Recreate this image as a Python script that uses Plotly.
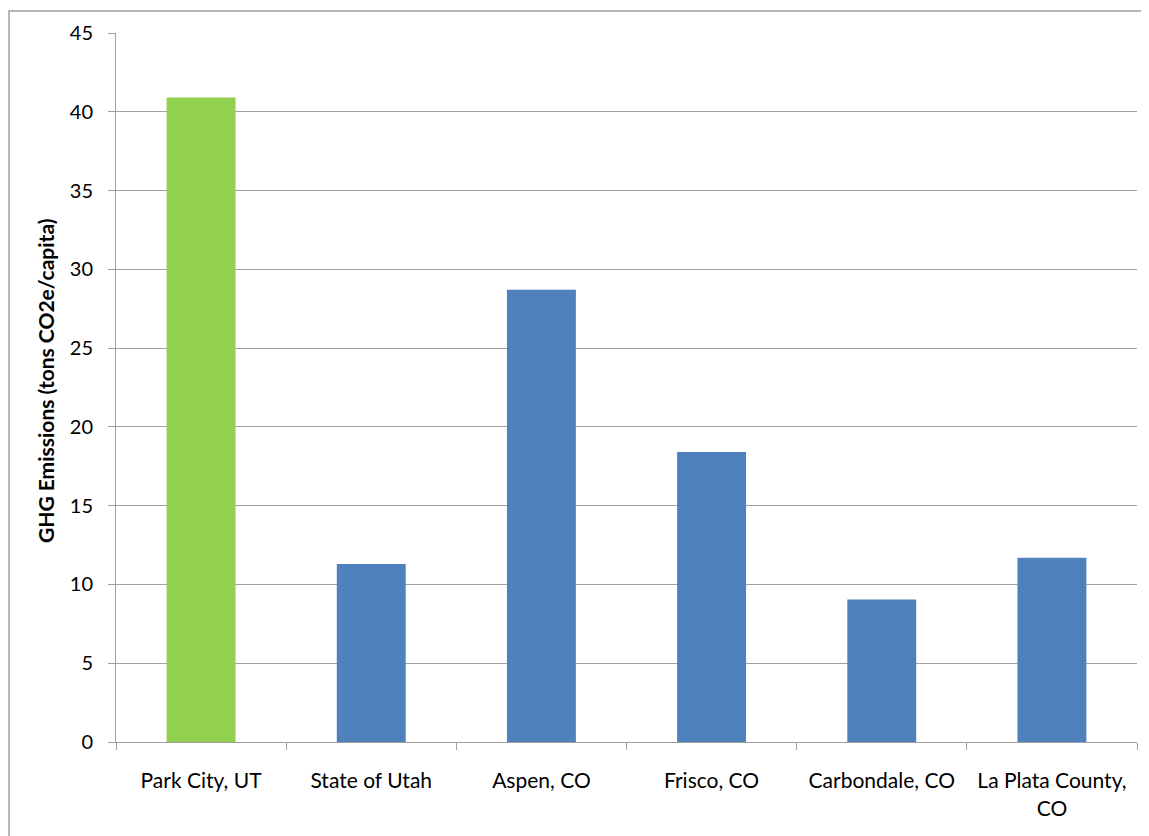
import plotly.graph_objects as go

categories = ["Park City, UT", "State of Utah", "Aspen, CO", "Frisco, CO",
              "Carbondale, CO", "La Plata County,<br>CO"]
values = [40.9, 11.3, 28.7, 18.4, 9.05, 11.7]
colors = ["#92D050", "#4F81BD", "#4F81BD", "#4F81BD", "#4F81BD", "#4F81BD"]
y_ticks = [0, 5, 10, 15, 20, 25, 30, 35, 40, 45]

OFF = 8  # page body margin
W, H = 1149 - OFF, 836 - OFF
L, R, T, B = 116 - OFF, 12, 31 - OFF, 94
pw, ph = W - L - R, H - T - B

def px_x(px):
    return (px - OFF - L) / pw

def px_y(py):
    return (H - B - (py - OFF)) / ph

fig = go.Figure(go.Bar(x=categories, y=values, marker=dict(color=colors, line=dict(width=0)),
                       width=0.405))

font = "Lato, 'Open Sans', sans-serif"
fig.update_layout(
    width=W, height=H,
    margin=dict(l=L, r=R, t=T, b=B),
    plot_bgcolor="white", paper_bgcolor="white",
    showlegend=False,
    font=dict(family=font, color="#000000", size=21),
)
fig.update_xaxes(
    showline=True, linecolor="#A0A0A0", linewidth=1,
    ticks="outside", tickson="boundaries", ticklen=7, tickcolor="#A0A0A0",
    showgrid=False, tickfont=dict(size=21), tickangle=0, ticklabelstandoff=20,
)
fig.update_yaxes(
    range=[0, 45], tickvals=y_ticks, showline=True, linecolor="#A0A0A0", linewidth=1,
    ticks="outside", ticklen=7, tickcolor="#A0A0A0",
    showgrid=True, gridcolor="#A0A0A0", gridwidth=1, zeroline=False,
    tickfont=dict(size=20), ticklabelstandoff=11,
)
fig.add_annotation(
    text="<b>GHG Emissions (tons CO2e/capita)</b>", textangle=-90,
    xref="paper", yref="paper", x=px_x(45), y=px_y(380),
    showarrow=False, font=dict(size=21, family=font), xanchor="center", yanchor="middle",
)
fig.add_shape(type="rect", xref="paper", yref="paper",
              x0=px_x(9), y0=px_y(850), x1=px_x(1170), y1=px_y(9),
              line=dict(color="#A0A0A0", width=1.5), layer="below")

fig.write_html("out.html")
